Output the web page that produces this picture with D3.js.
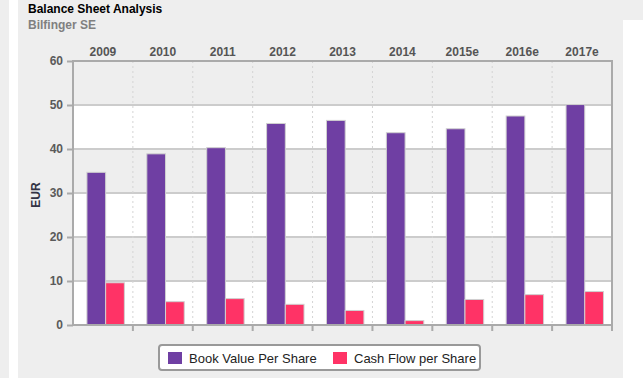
<!DOCTYPE html>
<html>
<head>
<meta charset="utf-8">
<script src="https://cdn.jsdelivr.net/npm/d3@7"></script>
<style>
  body { margin: 0; background: #eeeeee; }
  svg { display: block; font-family: Arial, "Liberation Sans", sans-serif; }
</style>
</head>
<body>
<div id="chart"></div>
<script>
const years = ['2009', '2010', '2011', '2012', '2013', '2014', '2015e', '2016e', '2017e'];
const bookValue = [34.7, 38.9, 40.3, 45.8, 46.5, 43.7, 44.6, 47.5, 50.1];
const cashFlow = [9.6, 5.3, 6.0, 4.7, 3.3, 1.0, 5.8, 6.9, 7.6];
const yTicks = [0, 10, 20, 30, 40, 50, 60];
const seriesNames = ['Book Value Per Share', 'Cash Flow per Share'];
const seriesColors = ['#6f3fa3', '#ff3366'];

const width = 643, height = 378;
const margin = { left: 73, right: 31, top: 61, bottom: 53 };

const svg = d3.select('#chart')
    .append('svg')
    .attr('width', width)
    .attr('height', height);

// Page background pieces
svg.append('rect').attr('width', width).attr('height', height).attr('fill', '#eeeeee');
svg.append('rect').attr('x', 9).attr('y', 0).attr('width', 9).attr('height', height).attr('fill', '#ffffff');
svg.append('rect').attr('x', 623).attr('y', 20).attr('width', 20).attr('height', height).attr('fill', '#ffffff');

// Titles
svg.append('text').attr('x', 28).attr('y', 13)
    .attr('font-size', 12).attr('font-weight', 'bold').attr('fill', '#000')
    .text('Balance Sheet Analysis');
svg.append('text').attr('x', 28).attr('y', 29)
    .attr('font-size', 12).attr('font-weight', 'bold').attr('fill', '#808080')
    .text('Bilfinger SE');

const x = d3.scaleBand()
    .domain(years)
    .range([margin.left, width - margin.right]);

const y = d3.scaleLinear()
    .domain([0, 60])
    .range([height - margin.bottom, margin.top]);

const inner = d3.scaleBand()
    .domain([0, 1])
    .range([0, x.bandwidth()])
    .paddingInner(0)
    .paddingOuter(0.6)
    .align(0.62);

// Alternating bands
svg.append('g')
    .selectAll('rect')
    .data(yTicks.slice(0, -1))
    .join('rect')
    .attr('x', margin.left)
    .attr('width', x.range()[1] - margin.left)
    .attr('y', d => y(d + 10))
    .attr('height', d => y(d) - y(d + 10))
    .attr('fill', (d, i) => i % 2 === 0 ? '#ffffff' : '#eeeeee');

// Horizontal grid lines
svg.append('g')
    .selectAll('line')
    .data(yTicks)
    .join('line')
    .attr('x1', margin.left).attr('x2', x.range()[1])
    .attr('y1', d => y(d)).attr('y2', d => y(d))
    .attr('stroke', '#cccccc').attr('stroke-width', 2);

// Vertical dotted separators
svg.append('g')
    .selectAll('line')
    .data(years.slice(1))
    .join('line')
    .attr('x1', d => x(d)).attr('x2', d => x(d))
    .attr('y1', margin.top).attr('y2', y(0))
    .attr('stroke', '#d4d4d4').attr('stroke-width', 1)
    .attr('stroke-dasharray', '2,3');

// Bars
const groups = svg.append('g')
    .selectAll('g')
    .data(years)
    .join('g')
    .attr('transform', d => `translate(${x(d)},0)`);

[bookValue, cashFlow].forEach((values, s) => {
    groups.append('rect')
        .attr('x', inner(s))
        .attr('width', inner.bandwidth())
        .attr('y', (d, i) => y(values[i]))
        .attr('height', (d, i) => y(0) - y(values[i]))
        .attr('fill', seriesColors[s])
        .attr('stroke', '#d0d0d0')
        .attr('stroke-width', 1);
});

// Plot frame
svg.append('rect')
    .attr('x', margin.left).attr('y', margin.top)
    .attr('width', x.range()[1] - margin.left)
    .attr('height', y(0) - margin.top)
    .attr('fill', 'none').attr('stroke', '#aaaaaa').attr('stroke-width', 2);

// Y axis
const yAxis = svg.append('g')
    .attr('transform', `translate(${margin.left},0)`)
    .call(d3.axisLeft(y).tickValues(yTicks).tickSize(6).tickPadding(4));
yAxis.select('.domain').remove();
yAxis.selectAll('line').attr('stroke', '#aaaaaa').attr('stroke-width', 2);
yAxis.selectAll('text')
    .attr('font-size', 12).attr('font-weight', 'bold').attr('fill', '#5a5a5a')
    .attr('font-family', 'Arial, "Liberation Sans", sans-serif');

// Bottom ticks between categories
svg.append('g')
    .selectAll('line')
    .data(years.slice(1).concat(['end']))
    .join('line')
    .attr('x1', d => d === 'end' ? x.range()[1] : x(d))
    .attr('x2', d => d === 'end' ? x.range()[1] : x(d))
    .attr('y1', y(0)).attr('y2', y(0) + 6)
    .attr('stroke', '#aaaaaa').attr('stroke-width', 2);

// Top category labels
const xAxis = svg.append('g')
    .attr('transform', `translate(0,${margin.top})`)
    .call(d3.axisTop(x).tickSize(0).tickPadding(5));
xAxis.select('.domain').remove();
xAxis.selectAll('text')
    .attr('font-size', 12).attr('font-weight', 'bold').attr('fill', '#555555')
    .attr('font-family', 'Arial, "Liberation Sans", sans-serif');

// Y axis title
svg.append('text')
    .attr('transform', `translate(40,${(margin.top + y(0)) / 2 + 2}) rotate(-90)`)
    .attr('text-anchor', 'middle')
    .attr('font-size', 12).attr('font-weight', 'bold').attr('fill', '#333344')
    .text('EUR');

// Legend
const legend = svg.append('g').attr('transform', 'translate(159,345)');
legend.append('rect')
    .attr('width', 321).attr('height', 25).attr('rx', 3)
    .attr('fill', '#ffffff').attr('stroke', '#999999').attr('stroke-width', 2);
const legendX = [9, 174];
seriesNames.forEach((name, i) => {
    legend.append('rect')
        .attr('x', legendX[i]).attr('y', 7)
        .attr('width', 14).attr('height', 12)
        .attr('fill', seriesColors[i]);
    legend.append('text')
        .attr('x', legendX[i] + 21).attr('y', 18)
        .attr('font-size', 13).attr('fill', '#222222')
        .text(name);
});
</script>
</body>
</html>
